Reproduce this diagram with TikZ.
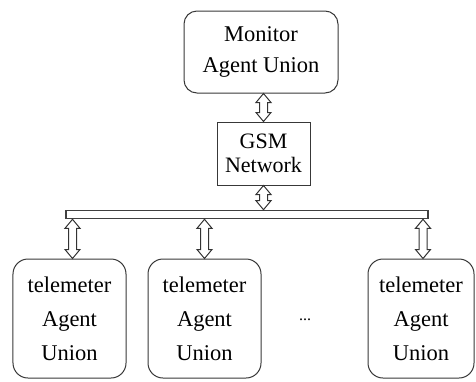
\documentclass[tikz,border=0pt]{standalone}
\usepackage{fontspec}
\setmainfont{Liberation Serif}
\usetikzlibrary{calc}
\newcommand\hollowarrow[2]{%
  \draw[arrowline] let \p1=(#1), \p2=(#2) in
    (\x1,\y1) -- (\x1+7.5bp,\y1-9bp) -- (\x1+4bp,\y1-9bp) -- (\x1+4bp,\y2+9bp)
    -- (\x1+7.5bp,\y2+9bp) -- (\x1,\y2) -- (\x1-7.5bp,\y2+9bp) -- (\x1-4bp,\y2+9bp)
    -- (\x1-4bp,\y1-9bp) -- (\x1-7.5bp,\y1-9bp) -- cycle;}
\begin{document}
\begin{tikzpicture}[x=1bp,y=-1bp,
  boxline/.style={draw=black!78, line width=1bp},
  ubox/.style={boxline, rounded corners=13bp, inner sep=0pt, align=center},
  netbox/.style={boxline, inner sep=0pt, align=center},
  arrowline/.style={draw=black!80, line width=1bp, line join=miter, fill=white},
  bigtext/.style={font=\fontsize{22.5bp}{31bp}\selectfont},
  agenttext/.style={font=\fontsize{22.5bp}{34bp}\selectfont},
  nettext/.style={font=\fontsize{22bp}{24bp}\selectfont}
]
\useasboundingbox (0,0) rectangle (476,381);
\node[ubox, bigtext, minimum width=154bp, minimum height=82bp] (mon) at (261,52) {Monitor\\Agent Union};
\node[netbox, nettext, minimum width=93bp, minimum height=63bp] (gsm) at (263.5,153.5) {GSM\\Network};
\node[draw=black!75, line width=1.6bp, fill=white, inner sep=0pt, minimum width=362bp, minimum height=8bp] (bus) at (247,214.5) {};
\node[ubox, agenttext, rounded corners=15bp, minimum width=113bp, minimum height=119bp] (t1) at (69.5,318.5) {telemeter\\Agent\\Union};
\node[ubox, agenttext, rounded corners=15bp, minimum width=113bp, minimum height=119bp] (t2) at (204.5,318.5) {telemeter\\Agent\\Union};
\node[ubox, agenttext, rounded corners=15bp, minimum width=106bp, minimum height=119bp] (t3) at (421,318.5) {telemeter\\Agent\\Union};
\node[font=\fontsize{16bp}{18bp}\selectfont, inner sep=0pt] (dots) at (305,320) {...};
\hollowarrow{mon.south -| gsm.north}{gsm.north}
\hollowarrow{gsm.south}{gsm.south |- bus.north}
\hollowarrow{$(t1.north |- bus.south)+(3,0)$}{$(t1.north)+(3,0)$}
\hollowarrow{t2.north |- bus.south}{t2.north}
\hollowarrow{$(t3.north |- bus.south)+(2,0)$}{$(t3.north)+(2,0)$}
\end{tikzpicture}
\end{document}
